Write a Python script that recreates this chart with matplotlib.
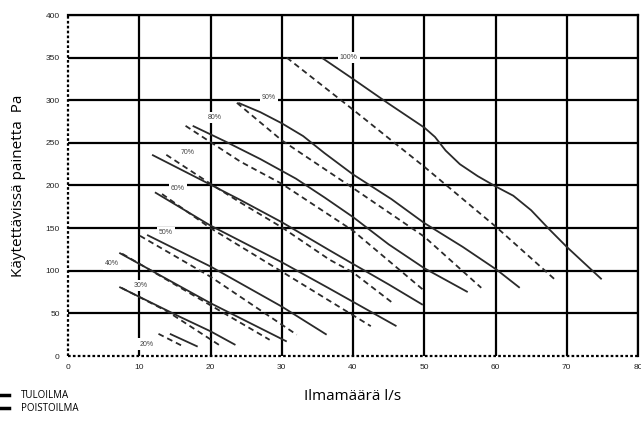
import matplotlib
matplotlib.use("Agg")
import matplotlib.pyplot as plt
from matplotlib.lines import Line2D

# ---- data ----
x_ticks = [0, 10, 20, 30, 40, 50, 60, 70, 80]
y_ticks = [0, 50, 100, 150, 200, 250, 300, 350, 400]

# supply (solid) curves, per fan speed
s100_x = [35.6, 40, 45, 50, 51.5, 53, 55, 57.5, 60, 62.5, 65, 67.5, 70, 74.9]
s100_y = [350, 325, 296, 268, 257, 241, 225, 211, 199, 188, 171, 149, 128, 90]
s90_x = [23.9, 27, 30, 33, 36, 40, 45.4, 50, 55.4, 60.2, 63.4]
s90_y = [297, 286, 273, 258, 238, 213, 184, 156, 128, 101, 80]
s80_x = [17.5, 22, 27, 32, 36, 40, 45, 50, 56.1]
s80_y = [270, 252, 231, 208, 186, 163, 131, 103, 75]
s70_x = [11.8, 20, 24.2, 30, 36.7, 40, 45, 49.8]
s70_y = [236, 201, 183, 157, 124, 108, 84, 60]
s60_x = [12.2, 20, 30, 36.5, 46.1]
s60_y = [192, 153, 110, 80, 35]
s50_x = [11.1, 20, 30, 36.3]
s50_y = [142, 105, 58, 25]
s40_x = [7.2, 20, 30.7]
s40_y = [121, 62, 17]
s30_x = [7.2, 15.7, 20, 23.5]
s30_y = [81, 46, 29, 13]
s20_x = [14.3, 18.2]
s20_y = [26, 11]

# exhaust (dashed) curves
d100_x = [30.7, 40, 50, 60, 68.3]
d100_y = [350, 289, 222, 152, 90]
d90_x = [23.7, 30, 40, 50, 58]
d90_y = [297, 253, 197, 140, 80]
d80_x = [16.5, 24.2, 30, 40, 49.8]
d80_y = [270, 228, 202, 147, 78]
d70_x = [13.8, 20, 24.2, 30, 36.7, 40, 45.6]
d70_y = [236, 202, 180, 151, 113, 98, 62]
d60_x = [13.2, 20, 30, 42.5]
d60_y = [190, 150, 99, 35]
d50_x = [10.1, 20, 32.1]
d50_y = [141, 93, 25]
d40_x = [7.6, 28.3]
d40_y = [120, 19]
d30_x = [7.5, 14, 21.2]
d30_y = [80, 52, 13]
d20_x = [12.7, 16]
d20_y = [26, 12]

labels = ["100%", "90%", "80%", "70%", "60%", "50%", "40%", "30%", "20%"]
label_x = [39.4, 28.2, 20.6, 16.8, 15.4, 13.7, 6.2, 10.2, 11.0]
label_y = [350, 303, 280, 239, 196, 145, 108, 83, 14]

legend_labels = ["TULOILMA", "POISTOILMA"]

solid = [(s100_x, s100_y), (s90_x, s90_y), (s80_x, s80_y), (s70_x, s70_y),
         (s60_x, s60_y), (s50_x, s50_y), (s40_x, s40_y), (s30_x, s30_y),
         (s20_x, s20_y)]
dashed = [(d100_x, d100_y), (d90_x, d90_y), (d80_x, d80_y), (d70_x, d70_y),
          (d60_x, d60_y), (d50_x, d50_y), (d40_x, d40_y), (d30_x, d30_y),
          (d20_x, d20_y)]

# ---- figure ----
fig = plt.figure(figsize=(6.41, 4.23), dpi=100)
ax = fig.add_axes([68/641, 1-356/423, 570/641, 341/423])

ax.set_xlim(0, 80)
ax.set_ylim(0, 400)
ax.set_xticks(x_ticks)
ax.set_yticks(y_ticks)
ax.grid(True, which="major", color="black", linewidth=1.6)
ax.set_axisbelow(True)
# hide the grid lines that sit on the dotted left/bottom axes
ax.xaxis.get_gridlines()[0].set_visible(False)
ax.yaxis.get_gridlines()[0].set_visible(False)
for name, sp in ax.spines.items():
    sp.set_linewidth(1.6)
    sp.set_color("black")
    if name in ("left", "bottom"):
        sp.set_linestyle((0, (1.2, 1.0)))
        sp.set_capstyle("butt")
ax.tick_params(which="major", length=0, labelsize=6, pad=6,
               labelcolor="#222222")
for t in ax.get_xticklabels() + ax.get_yticklabels():
    t.set_family("Liberation Sans")

col = "#2a2a2a"
for xs, ys in solid:
    ax.plot(xs, ys, color=col, linewidth=1.3, solid_capstyle="butt",
            solid_joinstyle="round", zorder=3)
for xs, ys in dashed:
    ax.plot(xs, ys, color=col, linewidth=1.3, linestyle=(0, (3.2, 2.2)),
            zorder=3)

for lab, lx, ly in zip(labels, label_x, label_y):
    ax.text(lx, ly, lab, fontsize=5, color="#444444", ha="center",
            va="center", family="Liberation Sans", zorder=4,
            bbox=dict(facecolor="white", edgecolor="none", pad=1.5))

ax.set_xlabel("Ilmamäärä l/s", fontsize=11, family="Open Sans", labelpad=13)
ax.set_ylabel("Käytettävissä painetta  Pa", fontsize=11, family="Open Sans",
              labelpad=14)

handles = [Line2D([0], [0], color="black", linewidth=2.5),
           Line2D([0], [0], color="black", linewidth=2.5)]
fig.legend(handles, legend_labels, loc="lower left",
           bbox_to_anchor=(-0.012, 0.0), frameon=False, handlelength=0.8,
           handletextpad=1.2, labelspacing=0.2,
           prop={"family": "Open Sans", "size": 7})

fig.savefig("out.png", dpi=100)
